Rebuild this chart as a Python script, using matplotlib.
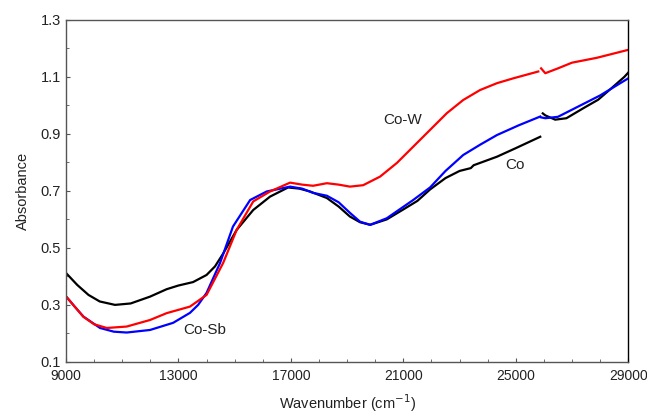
import matplotlib
matplotlib.use("Agg")
import matplotlib.pyplot as plt
from matplotlib.ticker import MultipleLocator

plt.rcParams["font.family"] = ["Liberation Sans", "DejaVu Sans"]

# --- spectra (wavenumber in cm-1, absorbance); detector switch near 26000 ---
co_wn_a = [9000, 9400, 9800, 10200, 10744, 11300, 11990, 12580, 13000, 13520,
           14000, 14300, 14590, 15070, 15660, 16260, 16900, 17300, 17680, 18280,
           18700, 19100, 19460, 19820, 20410, 21000, 21500, 21950, 22500, 23000,
           23400, 23500, 24330, 25000, 25870]
co_abs_a = [0.412, 0.370, 0.335, 0.312, 0.300, 0.305, 0.329, 0.355, 0.368, 0.380,
            0.405, 0.435, 0.480, 0.563, 0.633, 0.680, 0.712, 0.708, 0.698, 0.675,
            0.645, 0.610, 0.590, 0.581, 0.600, 0.635, 0.665, 0.705, 0.745, 0.770,
            0.780, 0.790, 0.820, 0.850, 0.890]
co_wn_b = [25960, 26050, 26400, 26800, 27400, 27930, 28400, 28860, 29000]
co_abs_b = [0.972, 0.965, 0.950, 0.955, 0.990, 1.020, 1.060, 1.100, 1.115]

cosb_wn_a = [9000, 9300, 9620, 10210, 10700, 11160, 11990, 12810, 13410, 13700,
             14000, 14480, 14940, 15550, 16140, 16970, 17400, 17790, 18280, 18700,
             19100, 19460, 19820, 20410, 21350, 21950, 22500, 23130, 23730, 24330,
             25100, 25870]
cosb_abs_a = [0.330, 0.295, 0.259, 0.219, 0.206, 0.203, 0.212, 0.237, 0.272, 0.300,
              0.342, 0.447, 0.575, 0.668, 0.698, 0.715, 0.708, 0.693, 0.683, 0.660,
              0.623, 0.592, 0.581, 0.604, 0.668, 0.712, 0.770, 0.826, 0.862, 0.896,
              0.930, 0.961]
cosb_wn_b = [25900, 26050, 26500, 27000, 27500, 28000, 28500, 29000]
cosb_abs_b = [0.958, 0.955, 0.960, 0.985, 1.010, 1.035, 1.065, 1.095]

cow_wn_a = [9000, 9300, 9620, 10000, 10450, 11160, 11990, 12580, 13410, 14000,
            14590, 15070, 15660, 16260, 16970, 17400, 17790, 18280, 18700, 19100,
            19570, 20170, 20770, 21350, 21950, 22550, 23130, 23730, 24330, 24910,
            25800]
cow_abs_a = [0.330, 0.295, 0.258, 0.232, 0.219, 0.224, 0.247, 0.271, 0.294, 0.335,
             0.447, 0.563, 0.663, 0.698, 0.729, 0.722, 0.718, 0.727, 0.722, 0.715,
             0.720, 0.750, 0.798, 0.855, 0.914, 0.973, 1.019, 1.054, 1.078, 1.095,
             1.119]
cow_wn_b = [25900, 26050, 26500, 27000, 27880, 28400, 29000]
cow_abs_b = [1.130, 1.113, 1.130, 1.150, 1.167, 1.180, 1.195]

fig = plt.figure(figsize=(6.47, 4.15), dpi=100)
ax = fig.add_axes([0.102, 0.128, 0.869, 0.824])

lw = 1.6
ax.plot(co_wn_a, co_abs_a, color="black", lw=lw)
ax.plot(co_wn_b, co_abs_b, color="black", lw=lw)
ax.plot(cosb_wn_a, cosb_abs_a, color="#0000ff", lw=lw)
ax.plot(cosb_wn_b, cosb_abs_b, color="#0000ff", lw=lw)
ax.plot(cow_wn_a, cow_abs_a, color="#ff0000", lw=lw)
ax.plot(cow_wn_b, cow_abs_b, color="#ff0000", lw=lw)

txt = "#222222"
ax.text(20990, 0.949, "Co-W", fontsize=11, color=txt, ha="center", va="center")
ax.text(24980, 0.791, "Co", fontsize=11, color=txt, ha="center", va="center")
ax.text(13950, 0.212, "Co-Sb", fontsize=11, color=txt, ha="center", va="center")

ax.set_xlim(9000, 29000)
ax.set_ylim(0.1, 1.3)
ax.xaxis.set_major_locator(MultipleLocator(4000, offset=1000))
ax.xaxis.set_minor_locator(MultipleLocator(1000))
ax.yaxis.set_major_locator(MultipleLocator(0.2, offset=0.1))
ax.yaxis.set_minor_locator(MultipleLocator(0.1))
ax.yaxis.set_major_formatter(plt.FuncFormatter(lambda v, p: f"{v:.1f}"))
ax.tick_params(which="both", direction="in", top=False, right=False,
               labelsize=10.5, labelcolor=txt, color="#555555")
ax.tick_params(axis="x", labelsize=10, pad=5)
ax.tick_params(which="major", length=3)
ax.tick_params(which="minor", length=2)
for s in ax.spines.values():
    s.set_color("#555555")
    s.set_linewidth(1.0)
ax.spines["right"].set_color("black")

ax.set_xlabel("Wavenumber (cm$^{-1}$)", fontsize=10.5, color=txt, labelpad=7)
ax.set_ylabel("Absorbance", fontsize=10.5, color=txt, labelpad=8)

fig.savefig("out.png", dpi=100)
